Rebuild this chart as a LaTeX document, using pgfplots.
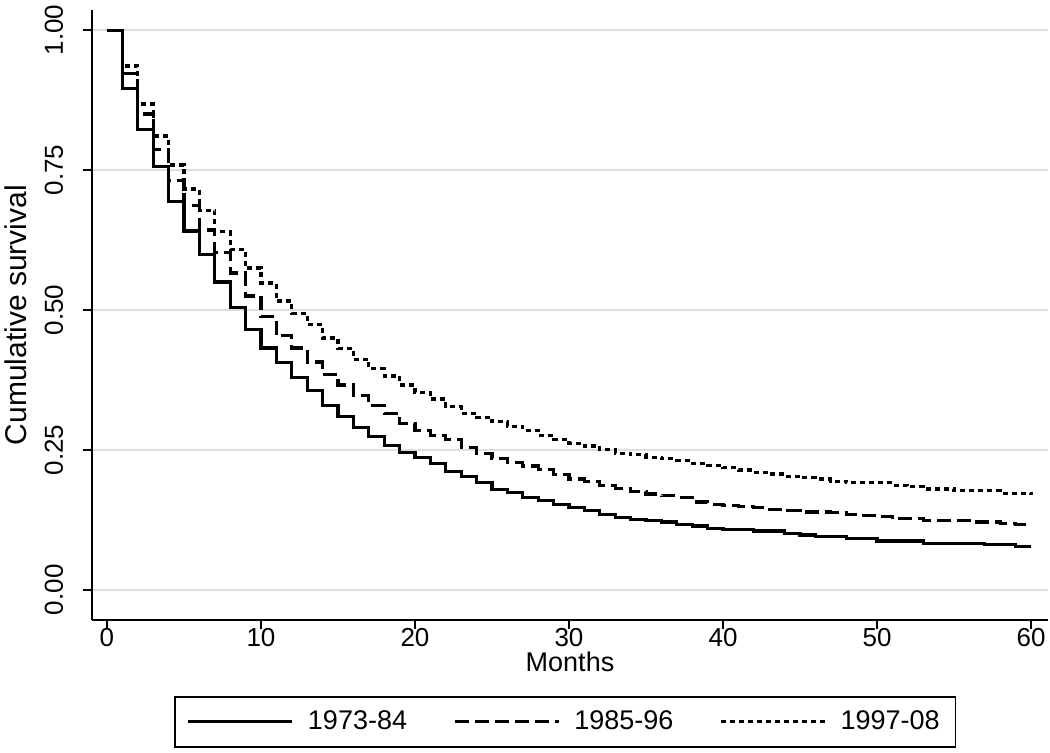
\documentclass[border=0pt]{standalone}
\usepackage{pgfplots}
\pgfplotsset{compat=1.18}
\usepackage{pgfplotstable}
\usepackage{fontspec}
\setmainfont{Liberation Sans}

\pgfplotstableread{
m v
0 1.000
1 0.895
2 0.823
3 0.757
4 0.694
5 0.641
6 0.599
7 0.550
8 0.505
9 0.465
10 0.432
11 0.406
12 0.379
13 0.356
14 0.329
15 0.309
16 0.290
17 0.274
18 0.258
19 0.245
20 0.236
21 0.226
22 0.212
23 0.203
24 0.191
25 0.179
26 0.174
27 0.165
28 0.159
29 0.153
30 0.147
31 0.141
32 0.135
33 0.129
34 0.126
35 0.124
36 0.121
37 0.117
38 0.114
39 0.110
40 0.108
41 0.108
42 0.105
43 0.105
44 0.101
45 0.098
46 0.095
47 0.095
48 0.092
49 0.092
50 0.087
51 0.087
52 0.087
53 0.083
54 0.083
55 0.083
56 0.083
57 0.081
58 0.081
59 0.078
60 0.078
}\tA

\pgfplotstableread{
m v
0 1.000
1 0.923
2 0.850
3 0.786
4 0.732
5 0.687
6 0.643
7 0.602
8 0.566
9 0.525
10 0.488
11 0.454
12 0.432
13 0.407
14 0.385
15 0.366
16 0.347
17 0.329
18 0.315
19 0.297
20 0.285
21 0.276
22 0.268
23 0.254
24 0.244
25 0.235
26 0.228
27 0.221
28 0.215
29 0.206
30 0.198
31 0.194
32 0.186
33 0.181
34 0.176
35 0.171
36 0.168
37 0.165
38 0.157
39 0.153
40 0.151
41 0.149
42 0.147
43 0.144
44 0.141
45 0.139
46 0.139
47 0.138
48 0.135
49 0.133
50 0.131
51 0.127
52 0.127
53 0.124
54 0.124
55 0.124
56 0.121
57 0.121
58 0.118
59 0.116
60 0.116
}\tB

\pgfplotstableread{
m v
0 1.000
1 0.936
2 0.868
3 0.811
4 0.759
5 0.716
6 0.678
7 0.640
8 0.608
9 0.575
10 0.548
11 0.516
12 0.494
13 0.474
14 0.450
15 0.431
16 0.412
17 0.395
18 0.382
19 0.366
20 0.353
21 0.341
22 0.327
23 0.315
24 0.308
25 0.300
26 0.292
27 0.285
28 0.276
29 0.269
30 0.262
31 0.257
32 0.250
33 0.244
34 0.241
35 0.237
36 0.234
37 0.231
38 0.226
39 0.222
40 0.218
41 0.214
42 0.210
43 0.207
44 0.203
45 0.200
46 0.198
47 0.194
48 0.191
49 0.191
50 0.191
51 0.187
52 0.184
53 0.180
54 0.180
55 0.177
56 0.177
57 0.177
58 0.172
59 0.172
60 0.170
}\tC

\begin{document}
\begin{tikzpicture}
\begin{axis}[
  name=main,
  scale only axis, width=478pt, height=305pt,
  xmin=-0.97, xmax=61.1, ymin=-0.054, ymax=1.036,
  axis x line*=bottom, axis y line*=left,
  axis line style={line width=0.75pt, -},
  xtick={0,10,20,30,40,50,60},
  xticklabels={0,10,20,30,40,50,60},
  ytick={0,0.25,0.5,0.75,1},
  yticklabels={0.00,0.25,0.50,0.75,1.00},
  tick align=outside, major tick length=4.5pt,
  tick style={line width=0.75pt, black},
  ymajorgrids, grid style={line width=1pt, color=black!13},
  ticklabel style={font=\fontsize{13}{15}\selectfont},
  xticklabel style={yshift=4pt},
  yticklabel style={xshift=-10pt, rotate=90, anchor=base},
  label style={font=\fontsize{13.5}{16}\selectfont},
  xlabel={Months},
  xlabel style={at={(axis description cs:0.5,-0.069)}, anchor=center},
  ylabel={Cumulative survival},
  ylabel style={at={(axis description cs:-0.069,0.5)}, anchor=base,
    font=\fontsize{15}{17}\selectfont},
  legend columns=3,
  legend style={at={(axis description cs:0.495,-0.167)}, anchor=center,
    draw=black, line width=0.75pt, font=\fontsize{13.5}{16}\selectfont,
    inner xsep=6pt, inner ysep=5pt,
    /tikz/every odd column/.append style={column sep=5pt},
    /tikz/every even column/.append style={column sep=21pt}},
  legend image code/.code={\draw[#1] (0pt,0pt) -- (52pt,0pt);},
]
\addplot[const plot, black, line width=1.6pt] table[x=m,y=v] {\tA};
\addlegendentry{1973-84}
\addplot[const plot, black, line width=1.6pt, dash pattern=on 7pt off 3pt] table[x=m,y=v] {\tB};
\addlegendentry{1985-96}
\addplot[const plot, black, line width=1.6pt, dash pattern=on 2.5pt off 2pt] table[x=m,y=v] {\tC};
\addlegendentry{1997-08}
\end{axis}
\pgfresetboundingbox
\path[use as bounding box] ([xshift=-46pt,yshift=-66.5pt]main.south west) rectangle ++(525pt,376.5pt);
\end{tikzpicture}
\end{document}
